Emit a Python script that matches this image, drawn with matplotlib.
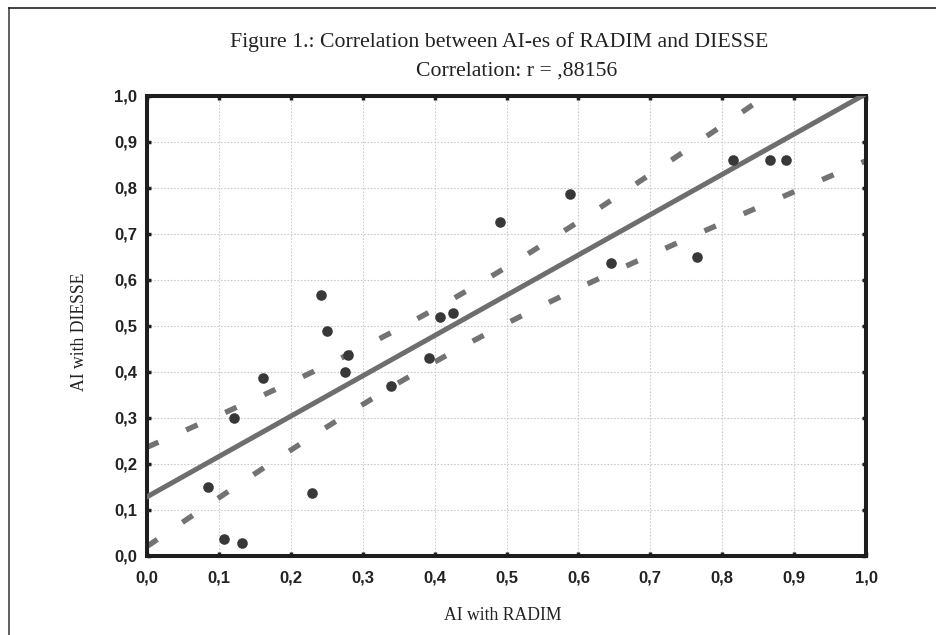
import numpy as np
import matplotlib
matplotlib.use("Agg")
import matplotlib.pyplot as plt
from matplotlib.lines import Line2D

# AI values
ai_radim = [0.085, 0.1075, 0.121, 0.1326, 0.162, 0.229, 0.2425, 0.251, 0.276, 0.279,
            0.339, 0.392, 0.408, 0.425, 0.491, 0.588, 0.646, 0.765, 0.8146, 0.867, 0.889]
ai_diesse = [0.149, 0.036, 0.299, 0.0275, 0.386, 0.136, 0.567, 0.489, 0.399, 0.438,
             0.369, 0.430, 0.5196, 0.529, 0.727, 0.788, 0.637, 0.649, 0.861, 0.861, 0.861]
tick_vals = [0.0, 0.1, 0.2, 0.3, 0.4, 0.5, 0.6, 0.7, 0.8, 0.9, 1.0]
tick_labels = ["0,0", "0,1", "0,2", "0,3", "0,4", "0,5", "0,6", "0,7", "0,8", "0,9", "1,0"]
t_crit = 2.093  # 95%, df = 19

x = np.array(ai_radim)
y = np.array(ai_diesse)
n = len(x)

# linear fit + 95% confidence band of the mean
slope, icpt = np.polyfit(x, y, 1)
resid = y - (icpt + slope * x)
s = np.sqrt(np.sum(resid ** 2) / (n - 2))
sxx = np.sum((x - x.mean()) ** 2)
xs = np.linspace(0, 1, 200)
fit = icpt + slope * xs
half = t_crit * s * np.sqrt(1.0 / n + (xs - x.mean()) ** 2 / sxx)

fig = plt.figure(figsize=(9.36, 6.35), dpi=100)
ax = fig.add_axes([147 / 936, 1 - 556 / 635, 719 / 936, 460 / 635])

ax.grid(True, color="#cccccc", linestyle=(0, (1.5, 1.5)), linewidth=0.8)
ax.set_axisbelow(True)

band_col = "#737373"
for sign in (1, -1):
    ax.plot(xs, fit + sign * half, color=band_col, lw=3.9, dashes=(2.3, 5.6),
            dash_capstyle="butt", zorder=2)
ax.plot(xs, fit, color="#6e6e6e", lw=3.6, zorder=3)
ax.scatter(x, y, s=58, color="#383838", zorder=4, linewidths=0)

ax.set_xlim(0, 1)
ax.set_ylim(0, 1)
ax.set_xticks(tick_vals)
ax.set_yticks(tick_vals)
ax.set_xticklabels(tick_labels)
ax.set_yticklabels(tick_labels)
for sp in ax.spines.values():
    sp.set_linewidth(2.9)
    sp.set_color("#1e1e1e")
ax.tick_params(direction="in", length=3, width=2.5, color="#1e1e1e",
               top=True, right=True, labelsize=12)
ax.tick_params(axis="x", pad=10.5)
ax.tick_params(axis="y", pad=7)
for lab in ax.get_xticklabels() + ax.get_yticklabels():
    lab.set_fontfamily("Liberation Sans")
    lab.set_fontweight("bold")
    lab.set_color("#222222")

serif = "Liberation Serif"
fig.text(499 / 936, 1 - 42 / 635, "Figure 1.: Correlation between AI-es of RADIM and DIESSE",
         ha="center", va="center", fontsize=15.7, family=serif, color="#222222")
fig.text(517 / 936, 1 - 71 / 635, "Correlation: r = ,88156",
         ha="center", va="center", fontsize=15.7, family=serif, color="#222222")
fig.text(503 / 936, 1 - 616 / 635, "AI with RADIM",
         ha="center", va="center", fontsize=12.7, family=serif, color="#222222")
fig.text(80 / 936, 1 - 332 / 635, "AI with DIESSE", rotation=90,
         ha="center", va="center", fontsize=12.7, family=serif, color="#222222")

# frame round the figure (only left and top edges show)
fig.add_artist(Line2D([9 / 936, 9 / 936], [0, 1 - 8 / 635], color="#444444", lw=1.2))
fig.add_artist(Line2D([9 / 936, 1], [1 - 8 / 635, 1 - 8 / 635], color="#222222", lw=1.2))

fig.savefig("out.png", dpi=100)
